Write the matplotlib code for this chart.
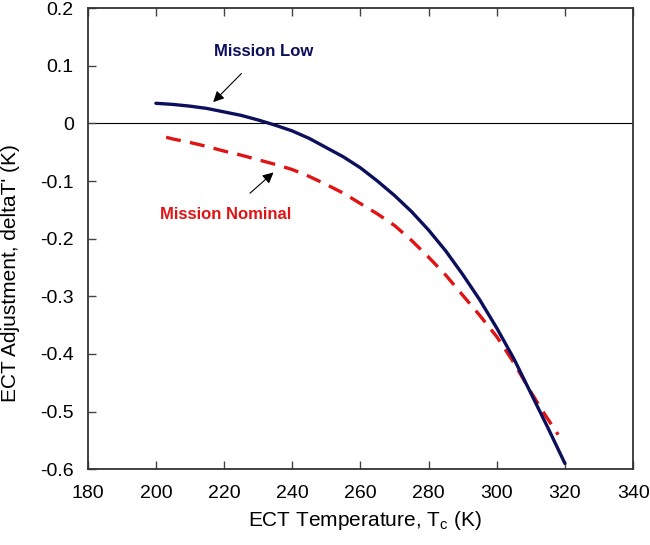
import matplotlib
matplotlib.use("Agg")
import matplotlib.pyplot as plt

plt.rcParams['font.family'] = ['Liberation Sans', 'DejaVu Sans']
plt.rcParams['axes.unicode_minus'] = False
plt.rcParams['mathtext.default'] = 'regular'

# Mission Low curve (solid navy)
low_t = [200, 205, 210, 215, 220, 225, 230, 235, 240, 245, 250, 255, 260,
         265, 270, 275, 280, 285, 290, 295, 300, 305, 310, 315, 320]
low_dt = [0.035, 0.033, 0.030, 0.026, 0.020, 0.014, 0.006, -0.003, -0.013,
          -0.026, -0.042, -0.058, -0.077, -0.100, -0.125, -0.153, -0.185,
          -0.221, -0.262, -0.306, -0.355, -0.408, -0.468, -0.528, -0.590]

# Mission Nominal curve (dashed red)
nom_t = [203, 205, 210, 215, 220, 225, 230, 235, 240, 245, 250, 255, 260,
         265, 270, 275, 280, 285, 290, 295, 300, 305, 310, 314, 318]
nom_dt = [-0.024, -0.027, -0.033, -0.040, -0.048, -0.055, -0.063, -0.071,
          -0.080, -0.092, -0.106, -0.121, -0.139, -0.157, -0.177, -0.203,
          -0.232, -0.263, -0.298, -0.333, -0.370, -0.415, -0.466, -0.504,
          -0.540]

xticks = [180, 200, 220, 240, 260, 280, 300, 320, 340]
yticks = [0.2, 0.1, 0.0, -0.1, -0.2, -0.3, -0.4, -0.5, -0.6]
ytick_labels = ['0.2', '0.1', '0', '-0.1', '-0.2', '-0.3', '-0.4', '-0.5', '-0.6']

fig = plt.figure(figsize=(6.5, 5.45), dpi=100)
ax = fig.add_axes([0.135, 0.139, 0.839, 0.846])

navy = '#0c0f5c'
red = '#e01414'

ax.axhline(0, color='black', lw=0.8, zorder=1)
ax.plot(low_t, low_dt, color=navy, lw=2.4, solid_capstyle='round', zorder=3)
ax.plot(nom_t, nom_dt, color=red, lw=2.4, linestyle=(0, (4.5, 2.8)), zorder=2)

ax.set_xlim(180, 340)
ax.set_ylim(-0.6, 0.2)
ax.set_xticks(xticks)
ax.set_yticks(yticks)
ax.set_yticklabels(ytick_labels)

ax.tick_params(direction='in', length=6, width=1, labelsize=14,
               top=True, right=False, color='#444444')
ax.tick_params(axis='x', pad=11)
ax.tick_params(axis='y', pad=10)
for s in ax.spines.values():
    s.set_linewidth(1.3)
    s.set_color('#333333')

ax.set_xlabel(r'ECT Temperature, T$_c$ (K)', fontsize=15)
ax.set_ylabel("ECT Adjustment, deltaT' (K)", fontsize=15)
ax.xaxis.set_label_coords(0.508, -0.087)
ax.yaxis.set_label_coords(-0.125, 0.426)

ax.annotate('Mission Low', xy=(216.8, 0.037), xytext=(231.5, 0.125),
            color=navy, fontsize=12, fontweight='bold', ha='center', va='center',
            arrowprops=dict(arrowstyle='-|>', color='black', lw=0.8,
                            mutation_scale=16, shrinkA=12, shrinkB=0))
ax.annotate('Mission Nominal', xy=(234.5, -0.085), xytext=(220.5, -0.158),
            color=red, fontsize=12, fontweight='bold', ha='center', va='center',
            arrowprops=dict(arrowstyle='-|>', color='black', lw=0.8,
                            mutation_scale=16, shrinkA=12, shrinkB=0))

fig.savefig('out.png', dpi=100)
